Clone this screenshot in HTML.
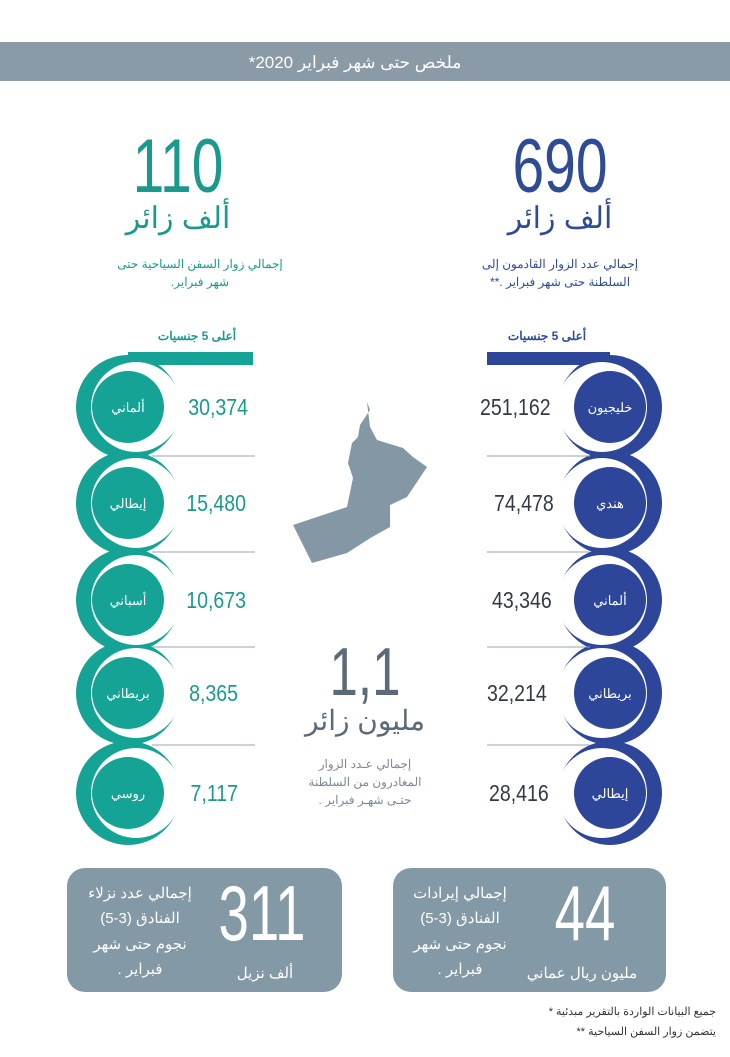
<!DOCTYPE html>
<html><head><meta charset="utf-8"><style>
body{margin:0;background:#fff;}
svg text{font-family:"Liberation Sans","Noto Sans CJK SC",sans-serif;}
</style></head><body>
<svg width="730" height="1052" viewBox="0 0 730 1052" xmlns="http://www.w3.org/2000/svg">
<rect x="0" y="42" width="730" height="39" fill="#8a9aa6"/>
<text x="355" y="68" font-size="17" fill="#fff" text-anchor="middle" direction="rtl">ملخص حتى شهر  فبراير 2020*</text>

<text x="178" y="192" font-size="76" fill="#1a9a8c" text-anchor="middle" transform="translate(178 0) scale(0.75 1) translate(-178 0)">110</text>
<text x="178" y="228" font-size="30" fill="#1a9a8c" text-anchor="middle">ألف زائر</text>
<text x="200" y="268" font-size="12" fill="#1a9a8c" text-anchor="middle">إجمالي زوار السفن السياحية حتى</text>
<text x="200" y="286" font-size="12" fill="#1a9a8c" text-anchor="middle" direction="rtl">شهر فبراير.</text>

<text x="560" y="192" font-size="76" fill="#2f4b94" text-anchor="middle" transform="translate(560 0) scale(0.75 1) translate(-560 0)">690</text>
<text x="560" y="228" font-size="30" fill="#2f4b94" text-anchor="middle">ألف زائر</text>
<text x="560" y="268" font-size="12" fill="#2f4b94" text-anchor="middle">إجمالي عدد الزوار القادمون إلى</text>
<text x="560" y="286" font-size="12" fill="#2f4b94" text-anchor="middle" direction="rtl">السلطنة حتى شهر فبراير .**</text>

<text x="197" y="340" font-size="12" fill="#1a9a8c" text-anchor="middle" font-weight="bold">أعلى 5 جنسيات</text>
<text x="547" y="340" font-size="12" fill="#2f4b94" text-anchor="middle" font-weight="bold">أعلى 5 جنسيات</text>

<rect x="128" y="352" width="125" height="13" fill="#15a395"/>
<rect x="487" y="352" width="123" height="13" fill="#2e469a"/>

<g id="left">
<g fill="#15a395">
<circle cx="128" cy="407" r="52"/><circle cx="128" cy="503" r="52"/><circle cx="128" cy="600" r="52"/><circle cx="128" cy="693" r="52"/><circle cx="128" cy="793" r="52"/>
</g>
<g fill="#fff">
<circle cx="136" cy="407" r="45"/><circle cx="136" cy="503" r="45"/><circle cx="136" cy="600" r="45"/><circle cx="136" cy="693" r="45"/><circle cx="136" cy="793" r="45"/>
</g>
<g fill="#15a395">
<circle cx="128" cy="407" r="36"/><circle cx="128" cy="503" r="36"/><circle cx="128" cy="600" r="36"/><circle cx="128" cy="693" r="36"/><circle cx="128" cy="793" r="36"/>
</g>
<g fill="#fff" font-size="13" text-anchor="middle">
<text x="128" y="412">ألماني</text><text x="128" y="508">إيطالي</text><text x="128" y="605">أسباني</text><text x="128" y="698">بريطاني</text><text x="128" y="798">روسي</text>
</g>
<g fill="#1a9a8c" font-size="23" text-anchor="end">
<text x="248" y="415" transform="translate(248 0) scale(0.85 1) translate(-248 0)">30,374</text>
<text x="246" y="511" transform="translate(246 0) scale(0.85 1) translate(-246 0)">15,480</text>
<text x="246" y="608" transform="translate(246 0) scale(0.85 1) translate(-246 0)">10,673</text>
<text x="238" y="701" transform="translate(238 0) scale(0.85 1) translate(-238 0)">8,365</text>
<text x="238" y="801" transform="translate(238 0) scale(0.85 1) translate(-238 0)">7,117</text>
</g>
<g stroke="#9aa3ab" stroke-width="1">
<line x1="152" y1="456" x2="255" y2="456"/><line x1="152" y1="552" x2="255" y2="552"/><line x1="152" y1="647" x2="255" y2="647"/><line x1="152" y1="745" x2="255" y2="745"/>
</g>
</g>

<g id="right">
<g fill="#2e469a">
<circle cx="610" cy="407" r="52"/><circle cx="610" cy="503" r="52"/><circle cx="610" cy="600" r="52"/><circle cx="610" cy="693" r="52"/><circle cx="610" cy="793" r="52"/>
</g>
<g fill="#fff">
<circle cx="602" cy="407" r="45"/><circle cx="602" cy="503" r="45"/><circle cx="602" cy="600" r="45"/><circle cx="602" cy="693" r="45"/><circle cx="602" cy="793" r="45"/>
</g>
<g fill="#2e469a">
<circle cx="610" cy="407" r="36"/><circle cx="610" cy="503" r="36"/><circle cx="610" cy="600" r="36"/><circle cx="610" cy="693" r="36"/><circle cx="610" cy="793" r="36"/>
</g>
<g fill="#fff" font-size="13" text-anchor="middle">
<text x="610" y="412">خليجيون</text><text x="610" y="508">هندي</text><text x="610" y="605">ألماني</text><text x="610" y="698">بريطاني</text><text x="610" y="798">إيطالي</text>
</g>
<g fill="#333a45" font-size="23" text-anchor="start">
<text x="480" y="415" transform="translate(480 0) scale(0.85 1) translate(-480 0)">251,162</text>
<text x="494" y="511" transform="translate(494 0) scale(0.85 1) translate(-494 0)">74,478</text>
<text x="492" y="608" transform="translate(492 0) scale(0.85 1) translate(-492 0)">43,346</text>
<text x="487" y="701" transform="translate(487 0) scale(0.85 1) translate(-487 0)">32,214</text>
<text x="489" y="801" transform="translate(489 0) scale(0.85 1) translate(-489 0)">28,416</text>
</g>
<g stroke="#9aa3ab" stroke-width="1">
<line x1="487" y1="456" x2="590" y2="456"/><line x1="487" y1="552" x2="590" y2="552"/><line x1="487" y1="647" x2="590" y2="647"/><line x1="487" y1="745" x2="590" y2="745"/>
</g>
</g>

<polygon fill="#8497a5" points="367,402 370,410 360,425 358,437 352,443 348,463 353,478 347,507 293,525 312,563 347,553 372,537 390,527 390,505 407,497 427,467 413,457 403,448 377,440 370,427"/>

<text x="365" y="695" font-size="68" fill="#5b6a78" text-anchor="middle" transform="translate(365 0) scale(0.75 1) translate(-365 0)">1,1</text>
<text x="365" y="730" font-size="28" fill="#5b6a78" text-anchor="middle">مليون زائر</text>
<g fill="#7d8994" font-size="12" text-anchor="middle">
<text x="365" y="768">إجمالي عـدد الزوار</text><text x="365" y="786">المغادرون من السلطنة</text><text x="365" y="804" direction="rtl">حتـى شهـر فبراير .</text>
</g>

<rect x="67" y="868" width="275" height="124" rx="18" fill="#8399a6"/>
<rect x="393" y="868" width="273" height="124" rx="18" fill="#8399a6"/>
<text x="262" y="940" font-size="78" fill="#fff" text-anchor="middle" transform="translate(262 0) scale(0.7 1) translate(-262 0)">311</text>
<text x="265" y="978" font-size="15" fill="#fff" text-anchor="middle">ألف نزيل</text>
<g fill="#fff" font-size="15" text-anchor="middle">
<text x="140" y="898">إجمالي عدد نزلاء</text><text x="140" y="923">الفنادق (3-5)</text><text x="140" y="949">نجوم حتى شهر</text><text x="140" y="974" direction="rtl">فبراير .</text>
</g>
<text x="585" y="940" font-size="78" fill="#fff" text-anchor="middle" transform="translate(585 0) scale(0.7 1) translate(-585 0)">44</text>
<text x="582" y="978" font-size="15" fill="#fff" text-anchor="middle">مليون ريال عماني</text>
<g fill="#fff" font-size="15" text-anchor="middle">
<text x="460" y="898">إجمالي إيرادات</text><text x="460" y="923">الفنادق  (3-5)</text><text x="460" y="949">نجوم حتى شهر</text><text x="460" y="974" direction="rtl">فبراير .</text>
</g>
<g fill="#333" font-size="11" text-anchor="end">
<text x="716" y="1015">*  جميع البيانات الواردة بالتقرير مبدئية</text>
<text x="716" y="1035">** يتضمن زوار السفن السياحية</text>
</g>
</svg>
</body></html>
